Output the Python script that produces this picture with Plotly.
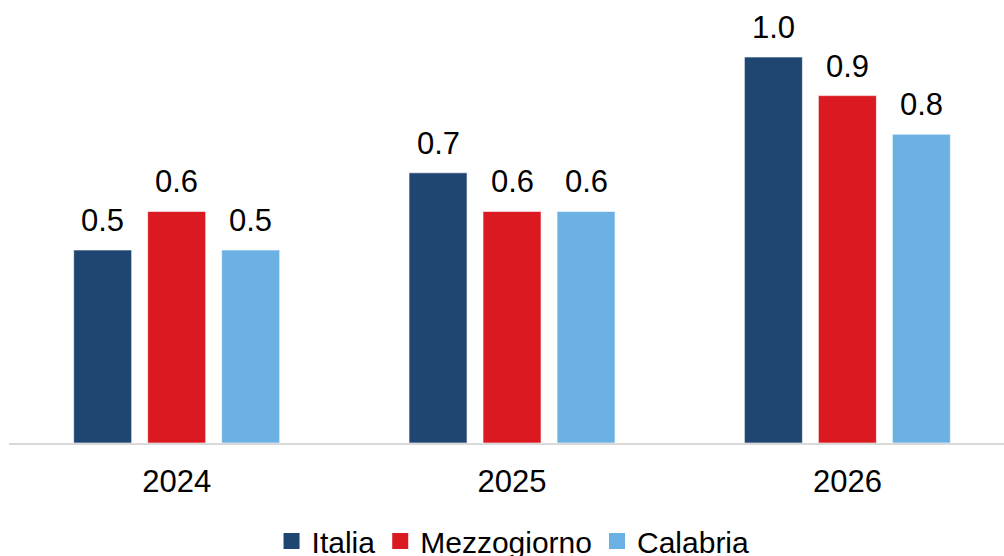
import plotly.graph_objects as go

years = ["2024", "2025", "2026"]
series_names = ["Italia", "Mezzogiorno", "Calabria"]
italia = [0.5, 0.7, 1.0]
mezzogiorno = [0.6, 0.6, 0.9]
calabria = [0.5, 0.6, 0.8]
colors = ["#1F4571", "#DA1921", "#6BB1E3"]

values = [italia, mezzogiorno, calabria]
FONT = "Liberation Sans, Arial, sans-serif"
SLOT_PX = 74  # pixel distance between bars within a group

fig = go.Figure()
annotations = []
for i, (name, vals, col) in enumerate(zip(series_names, values, colors)):
    fig.add_trace(go.Bar(
        x=years, y=vals, name=name,
        marker=dict(color=col, line=dict(color="rgba(255,255,255,0.6)", width=1)),
        showlegend=False, hoverinfo="x+y+name",
    ))
    fig.add_trace(go.Scatter(
        x=[years[0]], y=[None], name=name, mode="markers",
        marker=dict(symbol="square", size=16, color=col),
        showlegend=True, hoverinfo="skip",
    ))
    for j, v in enumerate(vals):
        annotations.append(dict(
            x=j, y=v, xref="x", yref="y", text=f"{v:.1f}",
            showarrow=False, yanchor="bottom", xanchor="center",
            xshift=(i - 1) * SLOT_PX, yshift=10,
            font=dict(size=31, family=FONT, color="#000000"),
        ))

fig.update_layout(
    width=1004, height=556,
    margin=dict(l=9, r=0, t=0, b=113),
    paper_bgcolor="white", plot_bgcolor="white",
    barmode="group", bargap=0.338, bargroupgap=0.216,
    font=dict(family=FONT, size=31, color="#000000"),
    xaxis=dict(
        type="category", range=[-0.5, 2.467],
        showline=True, linecolor="#D9D9D9", linewidth=2,
        showgrid=False, ticks="", ticklabelstandoff=10,
        tickfont=dict(size=31, family=FONT, color="#000000"),
    ),
    yaxis=dict(range=[0, 1.1477], visible=False, showgrid=False, zeroline=False),
    legend=dict(
        orientation="h", x=0.511, xanchor="center", xref="container",
        y=0.027, yanchor="middle", yref="container",
        font=dict(size=30, family=FONT, color="#000000"),
        itemwidth=30, tracegroupgap=0,
    ),
    annotations=annotations,
)

fig.write_html(
    "out.html",
    config={"displayModeBar": False},
    post_script="document.body.style.margin='0';document.body.style.overflow='hidden';",
)
